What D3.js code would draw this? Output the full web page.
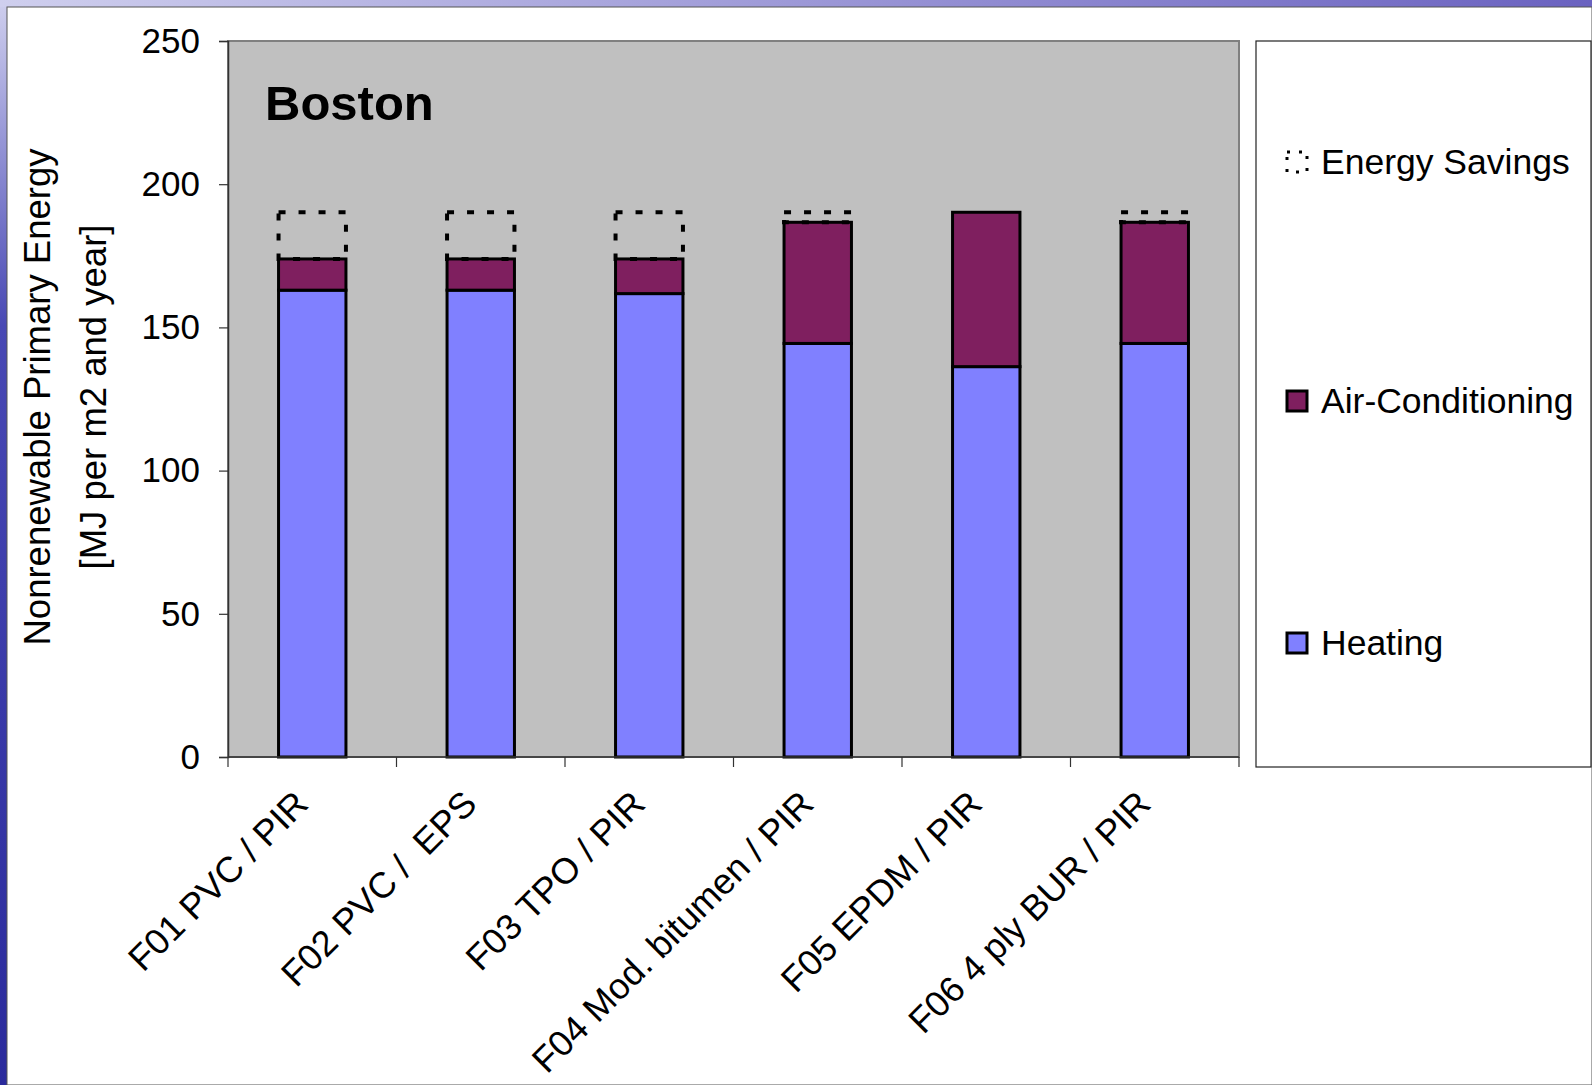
<!DOCTYPE html>
<html>
<head>
<meta charset="utf-8">
<script src="https://cdn.jsdelivr.net/npm/d3@7"></script>
<style>
  html, body { margin: 0; padding: 0; background: #ffffff; }
  svg { display: block; font-family: "Liberation Sans", Arial, sans-serif; }
</style>
</head>
<body>
<svg id="chart" width="1592" height="1085"></svg>
<script>
// Roof assemblies compared (Boston climate)
const categories = [
  "F01 PVC / PIR",
  "F02 PVC /  EPS",
  "F03 TPO / PIR",
  "F04 Mod. bitumen / PIR",
  "F05 EPDM / PIR",
  "F06 4 ply BUR / PIR"
];
// Nonrenewable primary energy, MJ per m2 and year
const heating = [163.0, 163.0, 161.8, 144.4, 136.3, 144.4];
const airConditioning = [10.9, 10.9, 12.1, 42.3, 53.9, 42.3];
const energySavings = [16.3, 16.3, 16.3, 3.5, 0, 3.5];
const yTicks = [0, 50, 100, 150, 200, 250];

const seriesNames = ["Energy Savings", "Air-Conditioning", "Heating"];
const colors = { heating: "#8080ff", ac: "#7f1f5f" };

const svg = d3.select("#chart");

// slide background with gradient edge
const defs = svg.append("defs");
const g1 = defs.append("linearGradient").attr("id", "edgeV").attr("x1", 0).attr("y1", 0).attr("x2", 0).attr("y2", 1);
g1.append("stop").attr("offset", "0%").attr("stop-color", "#cfcfee");
g1.append("stop").attr("offset", "12%").attr("stop-color", "#9a9ad8");
g1.append("stop").attr("offset", "30%").attr("stop-color", "#4848b4");
g1.append("stop").attr("offset", "100%").attr("stop-color", "#2a2a9c");
const g2 = defs.append("linearGradient").attr("id", "edgeH").attr("x1", 0).attr("y1", 0).attr("x2", 1).attr("y2", 0);
g2.append("stop").attr("offset", "0%").attr("stop-color", "#cfcfee");
g2.append("stop").attr("offset", "100%").attr("stop-color", "#6a62c0");

svg.append("rect").attr("x", 0).attr("y", 0).attr("width", 1592).attr("height", 1085).attr("fill", "url(#edgeV)");
svg.append("rect").attr("x", 0).attr("y", 0).attr("width", 1592).attr("height", 7).attr("fill", "url(#edgeH)");
svg.append("rect").attr("x", 7).attr("y", 7).attr("width", 1585).attr("height", 1078)
  .attr("fill", "#ffffff").attr("stroke", "#555").attr("stroke-width", 1);

// plot geometry
const plot = { left: 228, right: 1239, top: 41, bottom: 757 };

const x = d3.scaleBand()
  .domain(categories)
  .range([plot.left, plot.right])
  .paddingInner(0.6)
  .paddingOuter(0.3);

const y = d3.scaleLinear().domain([0, 250]).range([plot.bottom, plot.top]);

// plot area
svg.append("rect")
  .attr("x", plot.left).attr("y", plot.top)
  .attr("width", plot.right - plot.left).attr("height", plot.bottom - plot.top)
  .attr("fill", "#c0c0c0").attr("stroke", "#808080").attr("stroke-width", 2);

// chart label
svg.append("text")
  .attr("x", 265).attr("y", 120)
  .attr("font-size", 49).attr("font-weight", "bold").attr("fill", "#000")
  .text("Boston");

// stacked bars
const rows = categories.map((c, i) => ({
  cat: c,
  heating: heating[i],
  ac: airConditioning[i],
  savings: energySavings[i]
}));

const barG = svg.append("g");
rows.forEach(d => {
  const bx = x(d.cat), bw = x.bandwidth();
  barG.append("rect")
    .attr("x", bx).attr("width", bw)
    .attr("y", y(d.heating)).attr("height", y(0) - y(d.heating))
    .attr("fill", colors.heating).attr("stroke", "#000").attr("stroke-width", 3);
  barG.append("rect")
    .attr("x", bx).attr("width", bw)
    .attr("y", y(d.heating + d.ac)).attr("height", y(d.heating) - y(d.heating + d.ac))
    .attr("fill", colors.ac).attr("stroke", "#000").attr("stroke-width", 3);
});
rows.filter(d => d.savings > 0).forEach(d => {
  const base = d.heating + d.ac;
  barG.append("rect")
    .attr("x", x(d.cat)).attr("width", x.bandwidth())
    .attr("y", y(base + d.savings)).attr("height", y(base) - y(base + d.savings))
    .attr("fill", "none").attr("stroke", "#000").attr("stroke-width", 4)
    .attr("stroke-dasharray", "7,13");
});

// y axis
const yAxis = d3.axisLeft(y).tickValues(yTicks).tickSize(9).tickPadding(19).tickFormat(d3.format("d"));
const yG = svg.append("g").attr("transform", `translate(${plot.left},0)`).call(yAxis);
yG.select(".domain").attr("stroke", "#333").attr("stroke-width", 1.5);
yG.selectAll(".tick line").attr("stroke", "#333").attr("stroke-width", 1.2);
yG.selectAll(".tick text").attr("font-size", 35).attr("fill", "#000")
  .attr("font-family", "'Liberation Sans', Arial, sans-serif");

// x axis line and category boundary ticks
svg.append("line")
  .attr("x1", plot.left).attr("x2", plot.right)
  .attr("y1", y(0)).attr("y2", y(0))
  .attr("stroke", "#333").attr("stroke-width", 1.5);
svg.append("g").selectAll("line")
  .data(d3.range(categories.length + 1))
  .join("line")
  .attr("x1", i => x.range()[0] + i * x.step())
  .attr("x2", i => x.range()[0] + i * x.step())
  .attr("y1", y(0)).attr("y2", y(0) + 10)
  .attr("stroke", "#333").attr("stroke-width", 1.2);

// category labels
svg.append("g").selectAll("text")
  .data(categories)
  .join("text")
  .attr("transform", d => `translate(${x(d) + x.bandwidth() / 2 - 2},${y(0) + 49}) rotate(-45)`)
  .attr("text-anchor", "end")
  .attr("font-size", 36)
  .attr("fill", "#000")
  .style("white-space", "pre")
  .text(d => d);

// y axis title
const yt = svg.append("text")
  .attr("transform", `translate(50,397) rotate(-90)`)
  .attr("text-anchor", "middle")
  .attr("font-size", 36.5)
  .attr("fill", "#000");
yt.append("tspan").attr("x", 0).attr("y", 0).text("Nonrenewable Primary Energy");
yt.append("tspan").attr("x", 0).attr("y", 56).text("[MJ per m2 and year]");

// legend
svg.append("rect")
  .attr("x", 1256).attr("y", 41).attr("width", 335).attr("height", 726)
  .attr("fill", "#ffffff").attr("stroke", "#222").attr("stroke-width", 1.2);

const legendItems = [
  { name: seriesNames[0], y: 162, fill: "none", dash: "3,9" },
  { name: seriesNames[1], y: 401, fill: colors.ac, dash: null },
  { name: seriesNames[2], y: 643, fill: colors.heating, dash: null }
];
const lg = svg.append("g");
legendItems.forEach(it => {
  lg.append("rect")
    .attr("x", 1287).attr("y", it.y - 10).attr("width", 20).attr("height", 20)
    .attr("fill", it.fill).attr("stroke", "#000").attr("stroke-width", 3)
    .attr("stroke-dasharray", it.dash);
  lg.append("text")
    .attr("x", 1321).attr("y", it.y + 12)
    .attr("font-size", 35.5).attr("fill", "#000")
    .text(it.name);
});
</script>
</body>
</html>
